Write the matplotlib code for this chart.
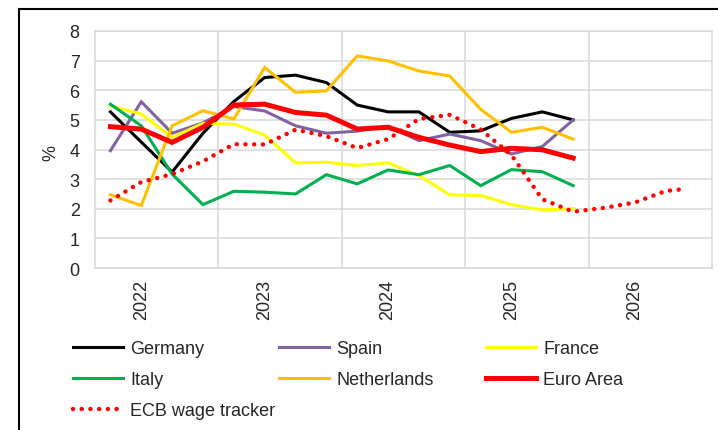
import numpy as np
import matplotlib
matplotlib.use("Agg")
import matplotlib.pyplot as plt
from matplotlib.patches import Rectangle
from matplotlib.ticker import FixedLocator, NullFormatter

plt.rcParams['font.family'] = ['Liberation Sans', 'DejaVu Sans']

# ---- data (quarterly, 2022Q1 onwards) ----
years = ['2022', '2023', '2024', '2025', '2026']
quarters = [f"{y}Q{q}" for y in years for q in range(1, 5)]

germany = [5.27, 4.25, 3.24, 4.55, 5.62, 6.43, 6.51, 6.26, 5.50, 5.27, 5.27, 4.58, 4.63, 5.05, 5.27, 5.00]
spain = [3.96, 5.61, 4.55, 4.90, 5.45, 5.30, 4.80, 4.55, 4.62, 4.78, 4.30, 4.52, 4.30, 3.85, 4.10, 5.00]
france = [5.47, 5.20, 4.41, 4.88, 4.86, 4.49, 3.55, 3.57, 3.46, 3.55, 3.12, 2.47, 2.45, 2.14, 1.96, 2.00]
italy = [5.53, 4.80, 3.17, 2.14, 2.59, 2.56, 2.50, 3.15, 2.84, 3.31, 3.15, 3.46, 2.78, 3.32, 3.25, 2.78]
netherlands = [2.47, 2.11, 4.80, 5.31, 5.03, 6.77, 5.93, 5.98, 7.16, 6.99, 6.65, 6.48, 5.36, 4.58, 4.75, 4.35]
euro_area = [4.77, 4.69, 4.24, 4.75, 5.50, 5.53, 5.25, 5.16, 4.69, 4.75, 4.41, 4.15, 3.93, 4.04, 3.99, 3.71]

# ECB wage tracker (quarter position, value)
wage_pos = [0, 1, 2, 3, 4, 5, 6, 7, 8, 9, 10, 11, 12, 13, 14, 15, 16, 17, 18, 18.67]
wage = [2.28, 2.90, 3.17, 3.60, 4.18, 4.17, 4.67, 4.45, 4.05, 4.35, 5.03, 5.17, 4.68, 3.81, 2.32, 1.90, 2.03, 2.21, 2.60, 2.67]

series = [
    ("Germany", germany, "#000000", 2.2),
    ("Spain", spain, "#8064A2", 2.2),
    ("France", france, "#FFFF00", 2.2),
    ("Italy", italy, "#00B050", 2.2),
    ("Netherlands", netherlands, "#FFC000", 2.2),
    ("Euro Area", euro_area, "#FF0000", 3.6),
]

W, H = 718, 431
fig = plt.figure(figsize=(W / 100, H / 100), dpi=100)
ax = fig.add_axes([95 / W, 1 - 269 / H, (712 - 95) / W, (269 - 32) / H])

x = np.arange(len(germany))
handles = {}
for name, vals, col, lw in series:
    (h,) = ax.plot(x, vals, color=col, lw=lw, solid_joinstyle='miter', label=name, zorder=3)
    handles[name] = h
(hw,) = ax.plot(wage_pos, wage, color="#FF0000", lw=3.2, linestyle=(0, (0.01, 1.95)),
                dash_capstyle='round', label="ECB wage tracker", zorder=4)
handles["ECB wage tracker"] = hw

ax.set_xlim(-0.5, len(quarters) - 0.5)
ax.set_ylim(0, 8)
ax.set_yticks(range(0, 9))
ax.set_xticks([quarters.index(y + "Q2") for y in years])
ax.set_xticklabels(years, rotation=90)
ax.xaxis.set_minor_locator(FixedLocator([quarters.index(y + "Q4") + 0.5 for y in years[:-1]]))
ax.xaxis.set_minor_formatter(NullFormatter())

ax.grid(True, which='major', axis='y', color='#D9D9D9', lw=1.1)
ax.grid(True, which='minor', axis='x', color='#D9D9D9', lw=1.1)
ax.set_axisbelow(True)
for s in ax.spines.values():
    s.set_color('#D9D9D9')
    s.set_linewidth(1.1)

ax.tick_params(axis='both', which='both', length=0, labelsize=13, colors='#262626')
ax.tick_params(axis='y', pad=11)
ax.tick_params(axis='x', pad=8)
ax.set_ylabel('%', fontsize=13, color='#262626')
ax.yaxis.set_label_coords(-0.057, 0.49)

# legend in three equal-width columns
cols = [["Germany", "Italy", "ECB wage tracker"], ["Spain", "Netherlands"], ["France", "Euro Area"]]
col_x = [73, 279, 486]
for names, cx in zip(cols, col_x):
    leg = fig.legend([handles[n] for n in names], names, loc='upper left',
                     bbox_to_anchor=(cx / W, 1 - 341 / H), frameon=False,
                     fontsize=13, handlelength=2.77, handletextpad=0.4,
                     labelspacing=0.78, borderpad=0, borderaxespad=0)
    for t in leg.get_texts():
        t.set_color('#262626')

# outer border (figure frame)
fig.add_artist(Rectangle((19 / W, -0.1), 1.2, 0.1 + (H - 10) / H,
                         transform=fig.transFigure, fill=False, ec='black', lw=1.5))

fig.savefig("out.png", dpi=100)
